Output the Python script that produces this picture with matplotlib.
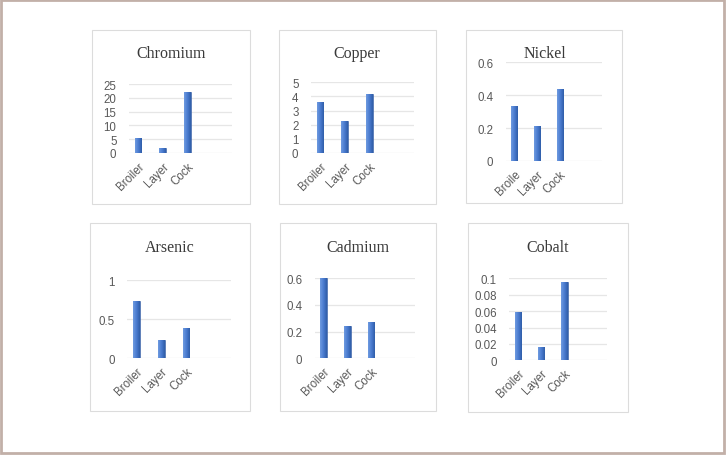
import matplotlib
matplotlib.use("Agg")
import matplotlib.pyplot as plt
import numpy as np
from matplotlib.patches import Rectangle
from matplotlib.colors import LinearSegmentedColormap

# ---- data ----
categories = ["Broiler", "Layer", "Cock"]
categories_nickel = ["Broile", "Layer", "Cock"]
titles = ["Chromium", "Copper", "Nickel", "Arsenic", "Cadmium", "Cobalt"]
chromium = [5.5, 1.8, 22.2]
copper = [3.6, 2.25, 4.2]
nickel = [0.335, 0.215, 0.435]
arsenic = [0.73, 0.23, 0.39]
cadmium = [0.60, 0.24, 0.27]
cobalt = [0.059, 0.016, 0.096]
ticks_chromium = [0, 5, 10, 15, 20, 25]
ticks_copper = [0, 1, 2, 3, 4, 5]
ticks_nickel = [0, 0.2, 0.4, 0.6]
ticks_arsenic = [0, 0.5, 1]
ticks_cadmium = [0, 0.2, 0.4, 0.6]
ticks_cobalt = [0, 0.02, 0.04, 0.06, 0.08, 0.1]
ticklabels_chromium = ["0", "5", "10", "15", "20", "25"]
ticklabels_copper = ["0", "1", "2", "3", "4", "5"]
ticklabels_nickel = ["0", "0.2", "0.4", "0.6"]
ticklabels_arsenic = ["0", "0.5", "1"]
ticklabels_cadmium = ["0", "0.2", "0.4", "0.6"]
ticklabels_cobalt = ["0", "0.02", "0.04", "0.06", "0.08", "0.1"]

W, H = 726, 456
fig = plt.figure(figsize=(W / 100, H / 100), dpi=100)
fig.patch.set_facecolor("white")

def fx(px):
    return px / W

def fy(py):
    return 1 - py / H

# outer border
fig.add_artist(Rectangle((fx(1), fy(454)), fx(723), (453) / H, transform=fig.transFigure,
                         fill=False, edgecolor="#c2b0a8", linewidth=2.0))

# panel boxes (px: left, top, right, bottom)
boxes = [(92, 31, 250, 205), (279, 31, 436, 205), (466, 31, 622, 204),
         (90, 224, 250, 412), (280, 224, 436, 412), (468, 224, 628, 413)]
# axes rects (px: left, top(ymax), right, bottom(0))
axrects = [(129, 85, 232, 154), (311, 83.3, 414, 154), (505.7, 63.3, 601.7, 162),
           (127.3, 281.3, 231.3, 359.3), (314.7, 279.3, 414.7, 359.3), (509.3, 279.3, 606.7, 361.3)]
title_pos = [(171, 54), (357, 54), (545, 54), (170, 248), (358, 248), (548, 248)]

datasets = [chromium, copper, nickel, arsenic, cadmium, cobalt]
tickss = [ticks_chromium, ticks_copper, ticks_nickel, ticks_arsenic, ticks_cadmium, ticks_cobalt]
ticklabelss = [ticklabels_chromium, ticklabels_copper, ticklabels_nickel,
               ticklabels_arsenic, ticklabels_cadmium, ticklabels_cobalt]
catss = [categories, categories, categories_nickel, categories, categories, categories]

grad = LinearSegmentedColormap.from_list("g", ["#6f9be0", "#4a7bd0", "#2f5da8"])
gimg = np.linspace(0, 1, 64).reshape(1, -1)

for (bl, bt, br, bb) in boxes:
    fig.add_artist(Rectangle((fx(bl), fy(bb)), (br - bl) / W, (bb - bt) / H,
                             transform=fig.transFigure, facecolor="white",
                             edgecolor="#dcdcdc", linewidth=0.8, zorder=0))

for i in range(6):
    l, t, r, b = axrects[i]
    ax = fig.add_axes([fx(l), fy(b), (r - l) / W, (b - t) / H])
    ax.set_facecolor("none")
    vals = datasets[i]
    ticks = tickss[i]
    x = np.arange(len(vals))
    bars = ax.bar(x, vals, width=0.27, color="#4a7bd0", edgecolor="#2f5597",
                  linewidth=0.4, zorder=3)
    for bar in bars:
        im = ax.imshow(gimg, cmap=grad, aspect="auto", zorder=3.5,
                       extent=(bar.get_x(), bar.get_x() + bar.get_width(), 0, bar.get_height()))
        im.set_clip_path(bar)
    ax.set_xlim(-0.37, 3.82)
    ax.set_ylim(0, ticks[-1])
    ax.set_yticks(ticks)
    ax.set_yticklabels(ticklabelss[i])
    ax.set_xticks(x)
    ax.set_xticklabels(catss[i], rotation=45, ha="right", va="top", rotation_mode="anchor")
    for s in ax.spines.values():
        s.set_visible(False)
    ax.yaxis.grid(True, color="#e6e6e6", linewidth=0.9, zorder=0)
    ax.set_axisbelow(True)
    ax.tick_params(axis="both", length=0, labelsize=8.3, colors="#595959",
                   labelfontfamily="Liberation Sans")
    ax.tick_params(axis="y", pad=9)
    ax.tick_params(axis="x", pad=5)
    tx, ty = title_pos[i]
    fig.text(fx(tx), fy(ty), titles[i], ha="center", va="center",
             fontsize=11.5, family="Liberation Serif", color="#3a3a3a")

fig.savefig("out.png", dpi=100, facecolor="white")
